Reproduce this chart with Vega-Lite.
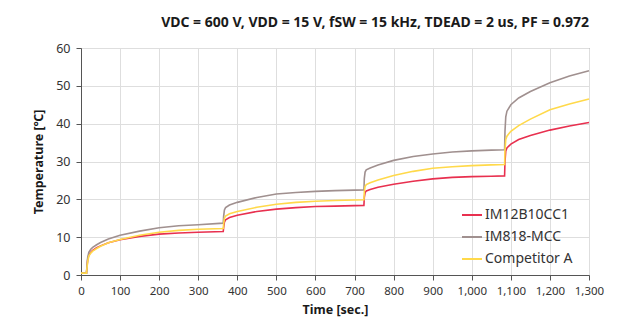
{
  "$schema": "https://vega.github.io/schema/vega-lite/v6.json",
  "autosize": "none",
  "width": 508,
  "height": 227,
  "padding": {"left": 81, "top": 48, "right": 32, "bottom": 60},
  "background": "white",
  "config": {
    "font": "Noto Sans",
    "view": {"stroke": "#6b6b6b", "strokeWidth": 1}
  },
  "title": {
    "text": "VDC = 600 V, VDD = 15 V, fSW = 15 kHz, TDEAD = 2 us, PF = 0.972",
    "anchor": "end",
    "frame": "group",
    "fontSize": 14,
    "fontWeight": "bold",
    "color": "#1a1a1a",
    "font": "Noto Sans",
    "offset": 12
  },
  "data": {"values": [
    {"s":"IM12B10CC1","t":0,"v":0.5},{"s":"IM12B10CC1","t":14,"v":0.5},{"s":"IM12B10CC1","t":17,"v":4.0},{"s":"IM12B10CC1","t":20,"v":5.3},{"s":"IM12B10CC1","t":25,"v":6.0},{"s":"IM12B10CC1","t":30,"v":6.5},{"s":"IM12B10CC1","t":40,"v":7.2},{"s":"IM12B10CC1","t":50,"v":7.7},{"s":"IM12B10CC1","t":70,"v":8.5},{"s":"IM12B10CC1","t":100,"v":9.3},{"s":"IM12B10CC1","t":150,"v":10.2},{"s":"IM12B10CC1","t":200,"v":10.8},{"s":"IM12B10CC1","t":250,"v":11.1},{"s":"IM12B10CC1","t":300,"v":11.3},{"s":"IM12B10CC1","t":364,"v":11.5},
    {"s":"IM12B10CC1","t":365,"v":12.5},{"s":"IM12B10CC1","t":367,"v":14.0},{"s":"IM12B10CC1","t":370,"v":14.6},{"s":"IM12B10CC1","t":380,"v":15.2},{"s":"IM12B10CC1","t":400,"v":15.8},{"s":"IM12B10CC1","t":450,"v":16.8},{"s":"IM12B10CC1","t":500,"v":17.4},{"s":"IM12B10CC1","t":550,"v":17.8},{"s":"IM12B10CC1","t":600,"v":18.1},{"s":"IM12B10CC1","t":650,"v":18.2},{"s":"IM12B10CC1","t":724,"v":18.4},
    {"s":"IM12B10CC1","t":725,"v":20.5},{"s":"IM12B10CC1","t":727,"v":21.8},{"s":"IM12B10CC1","t":730,"v":22.2},{"s":"IM12B10CC1","t":740,"v":22.6},{"s":"IM12B10CC1","t":760,"v":23.2},{"s":"IM12B10CC1","t":800,"v":24.0},{"s":"IM12B10CC1","t":850,"v":24.8},{"s":"IM12B10CC1","t":900,"v":25.4},{"s":"IM12B10CC1","t":950,"v":25.8},{"s":"IM12B10CC1","t":1000,"v":26.0},{"s":"IM12B10CC1","t":1050,"v":26.1},{"s":"IM12B10CC1","t":1084,"v":26.2},
    {"s":"IM12B10CC1","t":1085,"v":30.0},{"s":"IM12B10CC1","t":1087,"v":32.8},{"s":"IM12B10CC1","t":1090,"v":33.6},{"s":"IM12B10CC1","t":1100,"v":34.6},{"s":"IM12B10CC1","t":1120,"v":35.8},{"s":"IM12B10CC1","t":1150,"v":36.9},{"s":"IM12B10CC1","t":1200,"v":38.3},{"s":"IM12B10CC1","t":1250,"v":39.4},{"s":"IM12B10CC1","t":1300,"v":40.3},
    {"s":"IM818-MCC","t":0,"v":0.5},{"s":"IM818-MCC","t":14,"v":0.5},{"s":"IM818-MCC","t":17,"v":4.5},{"s":"IM818-MCC","t":20,"v":6.0},{"s":"IM818-MCC","t":25,"v":6.8},{"s":"IM818-MCC","t":30,"v":7.3},{"s":"IM818-MCC","t":40,"v":8.0},{"s":"IM818-MCC","t":50,"v":8.6},{"s":"IM818-MCC","t":70,"v":9.5},{"s":"IM818-MCC","t":100,"v":10.5},{"s":"IM818-MCC","t":150,"v":11.6},{"s":"IM818-MCC","t":200,"v":12.5},{"s":"IM818-MCC","t":250,"v":13.0},{"s":"IM818-MCC","t":300,"v":13.3},{"s":"IM818-MCC","t":364,"v":13.7},
    {"s":"IM818-MCC","t":365,"v":15.5},{"s":"IM818-MCC","t":367,"v":17.2},{"s":"IM818-MCC","t":370,"v":17.8},{"s":"IM818-MCC","t":380,"v":18.5},{"s":"IM818-MCC","t":400,"v":19.2},{"s":"IM818-MCC","t":450,"v":20.5},{"s":"IM818-MCC","t":500,"v":21.4},{"s":"IM818-MCC","t":550,"v":21.8},{"s":"IM818-MCC","t":600,"v":22.1},{"s":"IM818-MCC","t":650,"v":22.3},{"s":"IM818-MCC","t":724,"v":22.5},
    {"s":"IM818-MCC","t":725,"v":25.5},{"s":"IM818-MCC","t":727,"v":27.2},{"s":"IM818-MCC","t":730,"v":27.8},{"s":"IM818-MCC","t":740,"v":28.3},{"s":"IM818-MCC","t":760,"v":29.1},{"s":"IM818-MCC","t":800,"v":30.3},{"s":"IM818-MCC","t":850,"v":31.3},{"s":"IM818-MCC","t":900,"v":32.0},{"s":"IM818-MCC","t":950,"v":32.5},{"s":"IM818-MCC","t":1000,"v":32.8},{"s":"IM818-MCC","t":1050,"v":33.0},{"s":"IM818-MCC","t":1084,"v":33.1},
    {"s":"IM818-MCC","t":1085,"v":38.0},{"s":"IM818-MCC","t":1087,"v":41.8},{"s":"IM818-MCC","t":1090,"v":43.3},{"s":"IM818-MCC","t":1100,"v":45.0},{"s":"IM818-MCC","t":1120,"v":46.8},{"s":"IM818-MCC","t":1150,"v":48.5},{"s":"IM818-MCC","t":1200,"v":50.8},{"s":"IM818-MCC","t":1250,"v":52.6},{"s":"IM818-MCC","t":1300,"v":54.0},
    {"s":"Competitor A","t":0,"v":0.5},{"s":"Competitor A","t":14,"v":0.5},{"s":"Competitor A","t":17,"v":3.5},{"s":"Competitor A","t":20,"v":5.0},{"s":"Competitor A","t":25,"v":5.8},{"s":"Competitor A","t":30,"v":6.3},{"s":"Competitor A","t":40,"v":7.0},{"s":"Competitor A","t":50,"v":7.6},{"s":"Competitor A","t":70,"v":8.5},{"s":"Competitor A","t":100,"v":9.4},{"s":"Competitor A","t":150,"v":10.5},{"s":"Competitor A","t":200,"v":11.3},{"s":"Competitor A","t":250,"v":11.8},{"s":"Competitor A","t":300,"v":12.1},{"s":"Competitor A","t":364,"v":12.3},
    {"s":"Competitor A","t":365,"v":13.5},{"s":"Competitor A","t":367,"v":15.0},{"s":"Competitor A","t":370,"v":15.6},{"s":"Competitor A","t":380,"v":16.2},{"s":"Competitor A","t":400,"v":16.8},{"s":"Competitor A","t":450,"v":17.9},{"s":"Competitor A","t":500,"v":18.7},{"s":"Competitor A","t":550,"v":19.2},{"s":"Competitor A","t":600,"v":19.5},{"s":"Competitor A","t":650,"v":19.7},{"s":"Competitor A","t":724,"v":19.9},
    {"s":"Competitor A","t":725,"v":22.0},{"s":"Competitor A","t":727,"v":23.4},{"s":"Competitor A","t":730,"v":23.9},{"s":"Competitor A","t":740,"v":24.4},{"s":"Competitor A","t":760,"v":25.1},{"s":"Competitor A","t":800,"v":26.3},{"s":"Competitor A","t":850,"v":27.4},{"s":"Competitor A","t":900,"v":28.2},{"s":"Competitor A","t":950,"v":28.6},{"s":"Competitor A","t":1000,"v":28.9},{"s":"Competitor A","t":1050,"v":29.1},{"s":"Competitor A","t":1084,"v":29.2},
    {"s":"Competitor A","t":1085,"v":33.0},{"s":"Competitor A","t":1087,"v":35.8},{"s":"Competitor A","t":1090,"v":36.7},{"s":"Competitor A","t":1100,"v":38.0},{"s":"Competitor A","t":1120,"v":39.5},{"s":"Competitor A","t":1150,"v":41.2},{"s":"Competitor A","t":1200,"v":43.7},{"s":"Competitor A","t":1250,"v":45.2},{"s":"Competitor A","t":1300,"v":46.5}
  ]},
  "mark": {"type": "line", "strokeWidth": 1.6},
  "encoding": {
    "x": {
      "field": "t", "type": "quantitative",
      "scale": {"domain": [0, 1300], "nice": false},
      "axis": {
        "title": "Time [sec.]",
        "values": [0,100,200,300,400,500,600,700,800,900,1000,1100,1200,1300],
        "format": ",d",
        "labelFontSize": 11.5, "labelColor": "#333333", "labelFont": "Noto Sans",
        "labelOverlap": false, "labelFlush": false,
        "titleFontSize": 12.5, "titleFontWeight": "bold", "titleColor": "#1a1a1a", "titleFont": "Noto Sans",
        "titlePadding": 7,
        "gridColor": "#dedede", "gridWidth": 1, "grid": true,
        "domainColor": "#555555", "tickColor": "#555555", "tickSize": 5, "labelPadding": 5
      }
    },
    "y": {
      "field": "v", "type": "quantitative",
      "scale": {"domain": [0, 60], "nice": false},
      "axis": {
        "title": "Temperature [℃]",
        "values": [0,10,20,30,40,50,60],
        "labelFontSize": 12.5, "labelColor": "#333333", "labelFont": "Noto Sans",
        "labelFlush": false,
        "titleFontSize": 12.5, "titleFontWeight": "bold", "titleColor": "#1a1a1a", "titleFont": "Noto Sans",
        "titlePadding": 10,
        "gridColor": "#dedede", "gridWidth": 1, "grid": true,
        "domainColor": "#555555", "tickColor": "#555555", "tickSize": 5, "labelPadding": 6
      }
    },
    "color": {
      "field": "s", "type": "nominal",
      "scale": {
        "domain": ["IM12B10CC1", "IM818-MCC", "Competitor A"],
        "range": ["#e8304f", "#a0908f", "#ffd94a"]
      },
      "legend": {
        "title": null,
        "orient": "none",
        "legendX": 380,
        "legendY": 156,
        "symbolType": "stroke",
        "symbolSize": 400,
        "symbolStrokeWidth": 2,
        "labelFontSize": 14,
        "labelColor": "#333333",
        "labelFont": "Noto Sans",
        "rowPadding": 4,
        "labelOffset": 2
      }
    },
    "order": {"value": 0}
  }
}
